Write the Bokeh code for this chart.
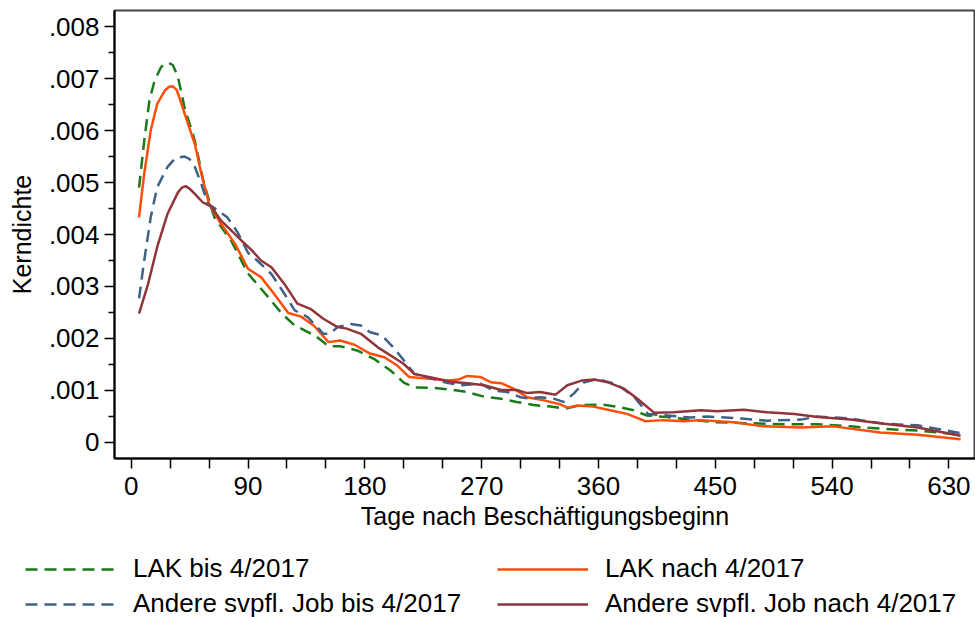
from bokeh.plotting import figure
from bokeh.layouts import column
from bokeh.models import Range1d, Legend, LegendItem, FixedTicker, CustomJSTickFormatter
from bokeh.embed import file_html
from bokeh.resources import INLINE

# ---- data (days after employment start, kernel density) ----
days_lak_bis = [6, 10, 14, 18, 23, 26, 29, 32, 36, 41, 49, 56, 64, 77, 90, 103, 116, 126, 131, 143, 152, 161,
                174, 187, 200, 210, 218, 233, 248, 259, 272, 285, 297, 310, 323, 334, 346, 362, 374, 387,
                397, 413, 426, 451, 477, 503, 529, 554, 580, 606, 639]
dens_lak_bis = [.0049, .0058, .00658, .00696, .00722, .00729, .0073, .00726, .00703, .00645, .0058, .00498,
                .00433, .00388, .00325, .00287, .00248, .00225, .00219, .00203, .00185, .00185, .00177,
                .00161, .00138, .00115, .00106, .00105, .00101, .00097, .00088, .00084, .00078, .00072,
                .00069, .00065, .00072, .00073, .00069, .00062, .00052, .00049, .00045, .00039, .00037,
                .00035, .00035, .00031, .00026, .00023, .00015]

days_lak_nach = [6, 10, 15, 20, 26, 29, 32, 35, 37, 42, 49, 54, 60, 69, 80, 90, 100, 110, 121, 131, 141, 152,
                 161, 172, 184, 195, 205, 214, 228, 244, 252, 259, 269, 277, 285, 295, 305, 318, 331, 336,
                 344, 356, 369, 382, 396, 410, 426, 439, 464, 487, 516, 541, 577, 606, 639]
dens_lak_nach = [.00433, .00517, .0060, .00651, .00677, .00684, .00685, .00678, .00664, .00626, .00574,
                 .00517, .00459, .00421, .00382, .00334, .00318, .00286, .00249, .00242, .00224, .00193,
                 .00196, .00188, .00171, .00164, .00148, .00126, .00123, .00119, .00121, .00128, .00126,
                 .00116, .00114, .00103, .00087, .00081, .00073, .00067, .00071, .00069, .00062, .00055,
                 .00041, .00043, .00041, .00043, .00039, .00031, .00029, .00031, .00019, .00015, .00006]

days_and_bis = [6, 10, 15, 20, 28, 34, 41, 45, 49, 54, 59, 67, 74, 82, 90, 97, 108, 118, 126, 136, 148, 153,
                159, 169, 177, 184, 193, 202, 210, 218, 233, 243, 254, 269, 279, 290, 300, 305, 315, 326,
                333, 341, 349, 359, 374, 387, 393, 398, 413, 431, 444, 470, 490, 516, 529, 554, 580, 606, 639]
dens_and_bis = [.00277, .0035, .00433, .00491, .0053, .00547, .0055, .00545, .0053, .00497, .00459, .00446,
                .00433, .00404, .00365, .0035, .00324, .00286, .00254, .00241, .00209, .00209, .00222,
                .00228, .00225, .00212, .00206, .00183, .00158, .00132, .00122, .00115, .0011, .00113,
                .001, .00097, .00087, .00085, .00087, .00084, .00078, .00094, .00116, .00122, .00112,
                .00089, .00071, .00055, .00052, .00048, .0005, .00046, .00042, .00044, .0005, .00046,
                .00036, .00033, .00018]

days_and_nach = [6, 13, 20, 28, 36, 39, 42, 45, 49, 55, 62, 69, 77, 85, 92, 100, 108, 118, 128, 138, 148, 159,
                 166, 177, 190, 202, 210, 218, 233, 246, 259, 272, 285, 297, 305, 315, 327, 336, 347, 357,
                 367, 380, 390, 403, 418, 439, 451, 472, 490, 511, 529, 554, 580, 606, 639]
dens_and_nach = [.00248, .00305, .00376, .0044, .00481, .0049, .00493, .00488, .00478, .00462, .00453,
                 .00427, .00408, .00388, .00372, .0035, .00337, .00305, .00267, .00257, .00238, .00222,
                 .00219, .00209, .00183, .00164, .00151, .00132, .00124, .00117, .00114, .0011, .00101,
                 .00101, .00095, .00097, .00092, .0011, .00119, .00121, .00116, .00103, .00084, .00057,
                 .00058, .00062, .0006, .00063, .00058, .00055, .00049, .00044, .00036, .00029, .00013]

x_ticks = [0, 90, 180, 270, 360, 450, 540, 630]
x_minor = [30, 60, 120, 150, 210, 240, 300, 330, 390, 420, 480, 510, 570, 600]
y_ticks = [0, .001, .002, .003, .004, .005, .006, .007, .008]
y_minor = [.0005, .0015, .0025, .0035, .0045, .0055, .0065, .0075]

labels = ["LAK bis 4/2017", "LAK nach 4/2017",
          "Andere svpfl. Job bis 4/2017", "Andere svpfl. Job nach 4/2017"]
colors = ["#1a7a1a", "#ff4d0a", "#3e6287", "#90353b"]
dashes = ["12 7", "solid", "12 7", "solid"]

FONT = "Liberation Sans"

# ---- main plot ----
p = figure(width=975, height=545, output_backend="svg", toolbar_location=None,
           x_range=Range1d(-12.9, 650.5), y_range=Range1d(-0.000308, 0.008308),
           min_border_left=114, min_border_right=0, min_border_top=10, min_border_bottom=87,
           background_fill_color="white", border_fill_color="white")
p.grid.visible = False
p.outline_line_color = "#444444"
p.outline_line_width = 2

series = [(days_lak_bis, dens_lak_bis), (days_lak_nach, dens_lak_nach),
          (days_and_bis, dens_and_bis), (days_and_nach, dens_and_nach)]
for (xs, ys), c, d in zip(series, colors, dashes):
    p.line(xs, ys, line_color=c, line_width=2.5, line_dash=d)

xa = p.xaxis[0]
xa.ticker = FixedTicker(ticks=x_ticks, minor_ticks=x_minor)
xa.axis_label = "Tage nach Beschäftigungsbeginn"
ya = p.yaxis[0]
ya.ticker = FixedTicker(ticks=y_ticks, minor_ticks=y_minor)
ya.formatter = CustomJSTickFormatter(code="""
if (Math.abs(tick) < 1e-12) return "0";
return tick.toFixed(3).replace(/^0/, "");
""")
ya.axis_label = "Kerndichte"

for ax in (xa, ya):
    ax.axis_line_color = "black"
    ax.axis_line_width = 2
    ax.major_tick_line_color = "black"
    ax.minor_tick_line_color = "black"
    ax.major_tick_line_width = 1.5
    ax.minor_tick_line_width = 1.5
    ax.major_tick_in = 0
    ax.minor_tick_in = 0
    ax.major_tick_out = 10
    ax.major_label_text_font = FONT
    ax.major_label_text_font_size = "26px"
    ax.major_label_text_color = "black"
    ax.axis_label_text_font = FONT
    ax.axis_label_text_font_size = "25px"
    ax.axis_label_text_font_style = "normal"
    ax.axis_label_text_color = "black"

xa.minor_tick_out = 10
ya.minor_tick_out = 6
xa.major_label_standoff = 8
xa.axis_label_standoff = 4
ya.major_label_standoff = 5
ya.axis_label_standoff = 10
ya.major_label_orientation = "horizontal"

# ---- legend strip ----
pl = figure(width=975, height=72, output_backend="svg", toolbar_location=None,
            x_range=Range1d(0, 1), y_range=Range1d(0, 1),
            x_axis_location=None, y_axis_location=None,
            min_border_left=0, min_border_right=0, min_border_top=0, min_border_bottom=0,
            background_fill_color="white", border_fill_color="white")
pl.grid.visible = False
pl.outline_line_color = None
for fig in (p, pl):
    try:
        fig.frame_align = False
    except Exception:
        pass

nan = float("nan")
leg_r = [pl.line([nan, nan], [nan, nan], line_color=c, line_width=2.5, line_dash=d)
         for c, d in zip(colors, dashes)]

def make_legend(idx, loc):
    return Legend(items=[LegendItem(label=labels[i], renderers=[leg_r[i]]) for i in idx],
                  location=loc, orientation="vertical",
                  glyph_width=91, glyph_height=28, label_height=28, label_standoff=17,
                  spacing=4, padding=0, margin=0, border_line_color=None,
                  background_fill_alpha=0, label_text_font=FONT, label_text_font_size="26px",
                  label_text_color="black")

pl.add_layout(make_legend([0, 2], (25, -2)))
pl.add_layout(make_legend([1, 3], (497, -2)))

open("out.html", "w").write(file_html(column(p, pl, spacing=0), INLINE))
